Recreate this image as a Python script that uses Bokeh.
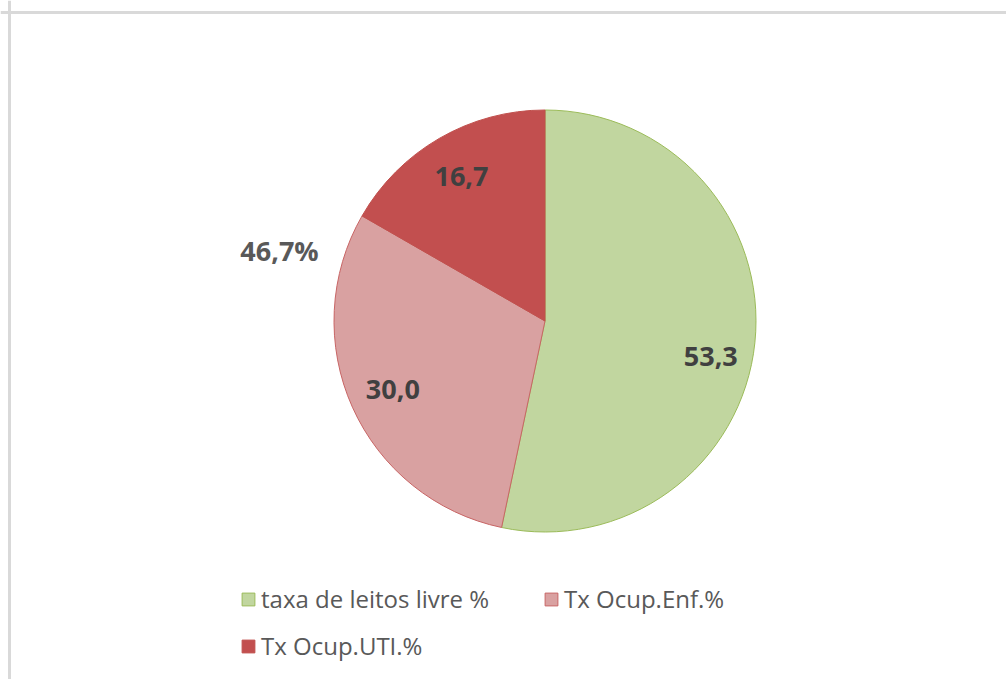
import math
from bokeh.plotting import figure
from bokeh.models import Range1d, ColumnDataSource, Legend, LegendItem, Label, Span
from bokeh.core.properties import value
from bokeh.embed import file_html
from bokeh.resources import INLINE

# ---- data ----
categories = ["taxa de leitos livre %", "Tx Ocup.Enf.%", "Tx Ocup.UTI.%"]
values = [53.3, 30.0, 16.7]
labels = ["53,3", "30,0", "16,7"]
occupied_label = "46,7%"

fills = ["#c1d69f", "#d9a1a1", "#c24f4f"]
lines = ["#9bbb59", "#c86565", "#c0504d"]

R = 211.0
total = sum(values)
starts, ends, lx, ly = [], [], [], []
a = math.pi / 2
for v in values:
    span = v / total * 2 * math.pi
    s, e = a, a - span
    starts.append(s)
    ends.append(e)
    mid = (s + e) / 2
    lx.append(0.79 * R * math.cos(mid))
    ly.append(0.79 * R * math.sin(mid))
    a = e

src = ColumnDataSource(dict(cat=categories, start=starts, end=ends, fill=fills, line=lines,
                            lx=lx, ly=ly, lab=labels, dy=[18, 0, 0]))

p = figure(width=1006, height=679, output_backend="svg", toolbar_location=None,
           x_range=Range1d(-544.5, 461.5), y_range=Range1d(-358.5, 320.5),
           min_border=0, outline_line_color=None, background_fill_color="white",
           border_fill_color="white")
p.axis.visible = False
p.grid.visible = False

r = p.wedge(x=0, y=0, radius=R, start_angle="start", end_angle="end", direction="clock",
            fill_color="fill", line_color="line", line_width=1, source=src)

p.text(x="lx", y="ly", text="lab", source=src, text_align="center", text_baseline="middle",
       y_offset="dy",
       text_font=value("Open Sans"), text_font_style="bold", text_font_size="27px",
       text_color="#404040")

p.add_layout(Label(x=-265.5, y=70.5, text=occupied_label, text_align="center",
                   text_baseline="middle", text_font="Open Sans", text_font_style="bold",
                   text_font_size="27px", text_color="#595959"))

# frame lines (left & top of chart area border)
p.add_layout(Span(location=-535.5, dimension="height", line_color="#d9d9d9", line_width=3))
p.add_layout(Span(location=308.5, dimension="width", line_color="#d9d9d9", line_width=3))

items = [LegendItem(label=c, renderers=[r], index=i) for i, c in enumerate(categories)]
legend = Legend(items=items, location=(240, 17), orientation="horizontal", ncols=2,
                glyph_width=16, glyph_height=16, label_standoff=5, label_width=268,
                spacing=14, padding=0, margin=0, border_line_color=None,
                background_fill_alpha=0, label_text_font="Open Sans",
                label_text_font_size="24px", label_text_color="#595959")
p.add_layout(legend)

open("out.html", "w").write(file_html(p, INLINE))
